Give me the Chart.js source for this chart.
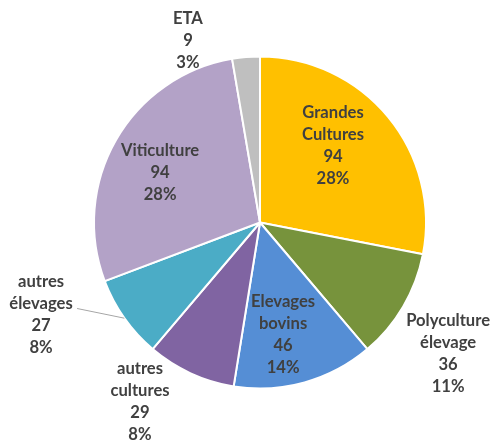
<!DOCTYPE html>
<html>
<head>
<meta charset="utf-8">
<script src="https://cdn.jsdelivr.net/npm/chart.js@4"></script>
<style>
  html, body { margin: 0; padding: 0; background: #fff; }
  #wrap { position: relative; width: 494px; height: 442px; }
</style>
</head>
<body>
<div id="wrap"><canvas id="chart"></canvas></div>
<script>
// Exploitations par orientation (clockwise from 12 o'clock)
const categories = [
  ['Grandes', 'Cultures'],
  ['Polyculture', 'élevage'],
  ['Elevages', 'bovins'],
  ['autres', 'cultures'],
  ['autres', 'élevages'],
  ['Viticulture'],
  ['ETA'],
];
const counts = [94, 36, 46, 29, 27, 94, 9];
const percents = [28, 11, 14, 8, 8, 28, 3];
const sliceColors = ['#FFC000', '#77933C', '#558ED5', '#8064A2', '#4BACC6', '#B3A2C7', '#BFBFBF'];

// label block centre, as fraction of the pie radius from its centre
const labelSpots = [
  [0.44, -0.46], [1.133, 0.79], [0.139, 0.678], [-0.723, 1.08],
  [-1.319, 0.557], [-0.602, -0.30], [-0.434, -1.098],
];
// which labels get a leader line back to their slice
const leaderFrom = { 4: [-1.102, 0.518] };

const TEXT = '#404040';
const FONT = "bold 16.6px Lato, 'Open Sans', sans-serif";
const LINE_H = 22;

const dataLabels = {
  id: 'dataLabels',
  afterDatasetsDraw(chart) {
    const { ctx } = chart;
    const arcs = chart.getDatasetMeta(0).data;
    ctx.save();
    ctx.font = FONT;
    ctx.fillStyle = TEXT;
    ctx.textAlign = 'center';
    ctx.textBaseline = 'middle';
    arcs.forEach((arc, i) => {
      const r = arc.outerRadius;
      const cx = arc.x + labelSpots[i][0] * r;
      const cy = arc.y + labelSpots[i][1] * r;
      const lines = [...categories[i], String(counts[i]), percents[i] + '%'];
      const top = cy - (lines.length - 1) * LINE_H / 2;
      lines.forEach((t, k) => ctx.fillText(t, cx, top + k * LINE_H));

      if (leaderFrom[i]) {
        const mid = (arc.startAngle + arc.endAngle) / 2;
        ctx.beginPath();
        ctx.strokeStyle = '#A6A6A6';
        ctx.lineWidth = 1;
        ctx.moveTo(arc.x + leaderFrom[i][0] * r, arc.y + leaderFrom[i][1] * r);
        ctx.lineTo(arc.x + Math.cos(mid) * r, arc.y + Math.sin(mid) * r);
        ctx.stroke();
      }
    });
    ctx.restore();
  },
};

new Chart(document.getElementById('chart'), {
  type: 'pie',
  data: {
    labels: categories,
    datasets: [{
      data: counts,
      backgroundColor: sliceColors,
      borderColor: '#FFFFFF',
      borderWidth: 2,
      radius: 166,
    }],
  },
  options: {
    responsive: true,
    maintainAspectRatio: false,
    animation: false,
    layout: { padding: { left: 26, right: 0, top: 3, bottom: 0 } },
    plugins: {
      legend: { display: false },
      tooltip: { enabled: false },
    },
  },
  plugins: [dataLabels],
});
</script>
</body>
</html>
